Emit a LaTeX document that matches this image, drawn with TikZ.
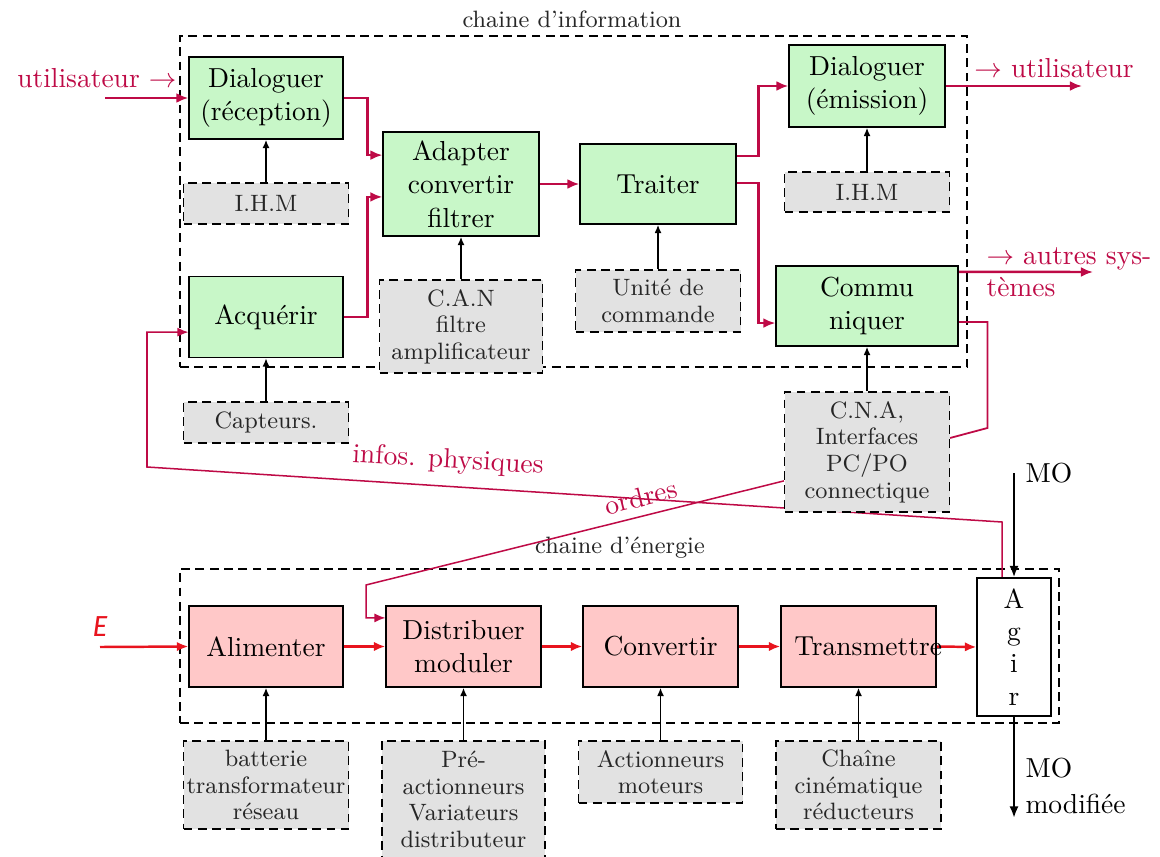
\documentclass[tikz,border=0pt]{standalone}
\usepackage{fontspec}
\newfontfamily\efont{Fira Sans}
\usetikzlibrary{arrows.meta}
\def\pxu{0.3636pt}
\definecolor{infoc}{RGB}{190,10,70}
\definecolor{enc}{RGB}{232,20,30}
\definecolor{gfill}{RGB}{200,247,200}
\definecolor{pfill}{RGB}{255,200,200}
\definecolor{grfill}{RGB}{226,226,226}
\tikzset{
  wh/.style 2 args={minimum width=#1*\pxu, minimum height=#2*\pxu},
  fbox/.style={draw, line width=0.55pt, inner sep=0pt, align=center, font=\fontsize{10}{12.2}\selectfont},
  gbox/.style={fbox, fill=gfill},
  pbox/.style={fbox, fill=pfill},
  sbox/.style={draw, dash pattern=on 3.2pt off 2pt, line width=0.5pt, fill=grfill, inner sep=0pt, align=center, font=\fontsize{8.6}{9.7}\selectfont, text=black!85},
  cont/.style={draw, dash pattern=on 3.2pt off 2pt, line width=0.5pt, inner sep=0pt},
  iarr/.style={draw=infoc, line width=0.9pt, -{Latex[length=4.4pt,width=3.6pt]}},
  iline/.style={draw=infoc, line width=0.65pt},
  farr/.style={draw=infoc, line width=0.55pt, -{Latex[length=4pt,width=3.3pt]}},
  earr/.style={draw=enc, line width=0.9pt, -{Latex[length=4.2pt,width=3.4pt]}},
  barr/.style={draw=black, line width=0.55pt, -{Latex[length=3pt,width=2.5pt]}},
  moarr/.style={draw=black, line width=0.85pt, -{Latex[length=4.2pt,width=3.3pt]}},
  itxt/.style={text=infoc, inner sep=0pt, font=\fontsize{10}{12}\selectfont},
  ltxt/.style={inner sep=0pt, font=\fontsize{8.6}{10}\selectfont, text=black!85},
  btxt/.style={inner sep=0pt, font=\fontsize{10}{13}\selectfont},
}
\begin{document}
\begin{tikzpicture}[x=0.3636pt, y=-0.3636pt]
\useasboundingbox (0,0) rectangle (1160,856);
% containers
\node[cont, wh={787}{331}] (ic) at (573.5,201.5) {};
\node[cont, wh={879}{154}] (ec) at (619.5,646) {};
\node[ltxt] (tci) at (572,19) {chaine d'information};
\node[ltxt] (tce) at (620,548) {chaine d'énergie};

% free-end coordinates
\coordinate (uin) at (105,98);
\coordinate (uout) at (1082,86);
\coordinate (aout) at (1093,272);
\coordinate (fb1) at (1002,522);
\coordinate (fb2) at (147,467);
\coordinate (ob) at (366,585);
\coordinate (moin) at (1014,473);
\coordinate (moout) at (1014,818);
\coordinate (ein) at (100,647);

\path
  (266,98) coordinate (pdlgR)
  (266,317) coordinate (pacq)
  (461,184) coordinate (padapt)
  (658,184) coordinate (ptraiter)
  (867,86) coordinate (pdlgE)
  (867,306) coordinate (pcomm)
  (867,452) coordinate (pcna)
  (266,646.5) coordinate (palim)
  (463.5,646.5) coordinate (pdistr)
  (660.5,646.5) coordinate (pconv)
  (858.5,646.5) coordinate (ptrans)
  (1014,647) coordinate (pagir);

% invisible nodes to route lines before the boxes are painted
\node[wh={154}{82}, inner sep=0pt] (dlgR) at (pdlgR) {};
\node[wh={154}{81}, inner sep=0pt] (acq) at (pacq) {};
\node[wh={156}{104}, inner sep=0pt] (adapt) at (padapt) {};
\node[wh={156}{80}, inner sep=0pt] (traiter) at (ptraiter) {};
\node[wh={156}{82}, inner sep=0pt] (dlgE) at (pdlgE) {};
\node[wh={182}{80}, inner sep=0pt] (comm) at (pcomm) {};
\node[wh={165}{120}, inner sep=0pt] (cna) at (pcna) {};
\node[wh={154}{81}, inner sep=0pt] (alim) at (palim) {};
\node[wh={155}{81}, inner sep=0pt] (distr) at (pdistr) {};
\node[wh={155}{81}, inner sep=0pt] (conv) at (pconv) {};
\node[wh={155}{81}, inner sep=0pt] (trans) at (ptrans) {};
\node[wh={74}{138}, inner sep=0pt] (agir) at (pagir) {};

% long feedback lines (behind boxes)
\draw[farr] (agir.north -| fb1) -- (fb1) -- (fb2) |- ([yshift=-5.5pt]acq.west);
\draw[farr] ([yshift=-10.5pt]cna.west) -- (ob) |- ([yshift=10.4pt]distr.west);
\draw[iline] ([yshift=-5.8pt]comm.east) -- ++(29,0) -- ++(0,106) -- ([yshift=5.1pt]cna.east);

% info chain arrows
\draw[iarr] (uin) -- (dlgR.west);
\draw[iarr] (dlgR.east) -- ++(24,0) |- ([yshift=10.5pt]adapt.west);
\draw[iarr] (acq.east) -- ++(24,0) |- ([yshift=-4.7pt]adapt.west);
\draw[iarr] (adapt.east) -- (traiter.west);
\draw[iarr] ([yshift=10.2pt]traiter.east) -- ++(22,0) |- (dlgE.west);
\draw[iarr] ([yshift=0.4pt]traiter.east) -- ++(22,0) |- ([yshift=-6.2pt]comm.west);
\draw[iarr] (dlgE.east) -- (uout);
\draw[iarr] ([yshift=12.4pt]comm.east) -- (aout);

% energy chain arrows
\draw[earr] (ein) -- (alim.west);
\draw[earr] (alim.east) -- (distr.west);
\draw[earr] (distr.east) -- (conv.west);
\draw[earr] (conv.east) -- (trans.west);
\draw[earr] (trans.east) -- (agir.west);

% MO arrows
\draw[moarr] (moin) -- (agir.north);
\draw[moarr] (agir.south) -- (moout);

% visible boxes
\node[gbox, wh={154}{82}] (bdlgR) at (pdlgR) {Dialoguer\\(réception)};
\node[gbox, wh={154}{81}] (bacq) at (pacq) {Acquérir};
\node[gbox, wh={156}{104}] (badapt) at (padapt) {Adapter\\convertir\\filtrer};
\node[gbox, wh={156}{80}] (btraiter) at (ptraiter) {Traiter};
\node[gbox, wh={156}{82}] (bdlgE) at (pdlgE) {Dialoguer\\(émission)};
\node[gbox, wh={182}{80}] (bcomm) at (pcomm) {Commu\\niquer};

\node[pbox, wh={154}{81}] (balim) at (palim) {Alimenter};
\node[pbox, wh={155}{81}] (bdistr) at (pdistr) {Distribuer\\moduler};
\node[pbox, wh={155}{81}] (bconv) at (pconv) {Convertir};
\node[pbox, wh={155}{81}] (btrans) at (ptrans) {\makebox[0pt]{\hspace{7pt}Transmettre}};
\node[fbox, fill=white, wh={74}{138}, font=\fontsize{10}{11.7}\selectfont] (bagir) at (pagir) {A\\g\\i\\r};

\node[sbox, wh={165}{41}] (ihm1) at (266,203.5) {I.H.M};
\node[sbox, wh={165}{41}] (capt) at (266,422.5) {Capteurs.};
\node[sbox, wh={163}{93}] (can) at (461,326.5) {C.A.N\\filtre\\amplificateur};
\node[sbox, wh={165}{62}] (unite) at (658,301) {Unité de\\commande};
\node[sbox, wh={165}{40}] (ihm2) at (867,192) {I.H.M};
\node[sbox, wh={165}{120}] (bcna) at (pcna) {C.N.A,\\Interfaces\\PC/PO\\connectique};
\node[sbox, wh={165}{88}] (batt) at (266,785) {batterie\\transformateur\\réseau};
\node[sbox, wh={163}{117}] (pre) at (463.5,799.5) {Pré-\\actionneurs\\Variateurs\\distributeur};
\node[sbox, wh={164}{62}] (actn) at (660.5,772) {Actionneurs\\moteurs};
\node[sbox, wh={165}{88}] (chn) at (858.5,785) {Chaîne\\cinématique\\réducteurs};

% support arrows
\draw[barr] (ihm1.north) -- (bdlgR.south);
\draw[barr] (capt.north) -- (bacq.south);
\draw[barr] (can.north) -- (badapt.south);
\draw[barr] (unite.north) -- (btraiter.south);
\draw[barr] (ihm2.north) -- (bdlgE.south);
\draw[barr] (bcna.north) -- (bcomm.south);
\draw[barr] (batt.north) -- (balim.south);
\draw[barr] (pre.north) -- (bdistr.south);
\draw[barr] (actn.north) -- (bconv.south);
\draw[barr] (chn.north) -- (btrans.south);

% labels
\node[itxt, anchor=east] (tu) at (177,78) {utilisateur $\rightarrow$};
\node[itxt] (tu2) at (1054,68) {$\rightarrow$ utilisateur};
\node[itxt, anchor=north west, align=left, font=\fontsize{10}{11.5}\selectfont] (tas) at (986,247) {$\rightarrow$ autres sys-\\tèmes};
\node[itxt, rotate=-3.3] (tip) at (448,461) {infos. physiques};
\node[itxt, rotate=14] (tord) at (641,497) {ordres};
\node[text=enc, inner sep=0pt, font=\fontsize{10.5}{12}\selectfont] (tE) at (100,627) {\efont\itshape E};
\node[btxt, anchor=west] (tmo) at (1025,473) {MO};
\node[btxt, anchor=west, align=left] (tmo2) at (1025,786) {MO\\modifiée};
\end{tikzpicture}
\end{document}
